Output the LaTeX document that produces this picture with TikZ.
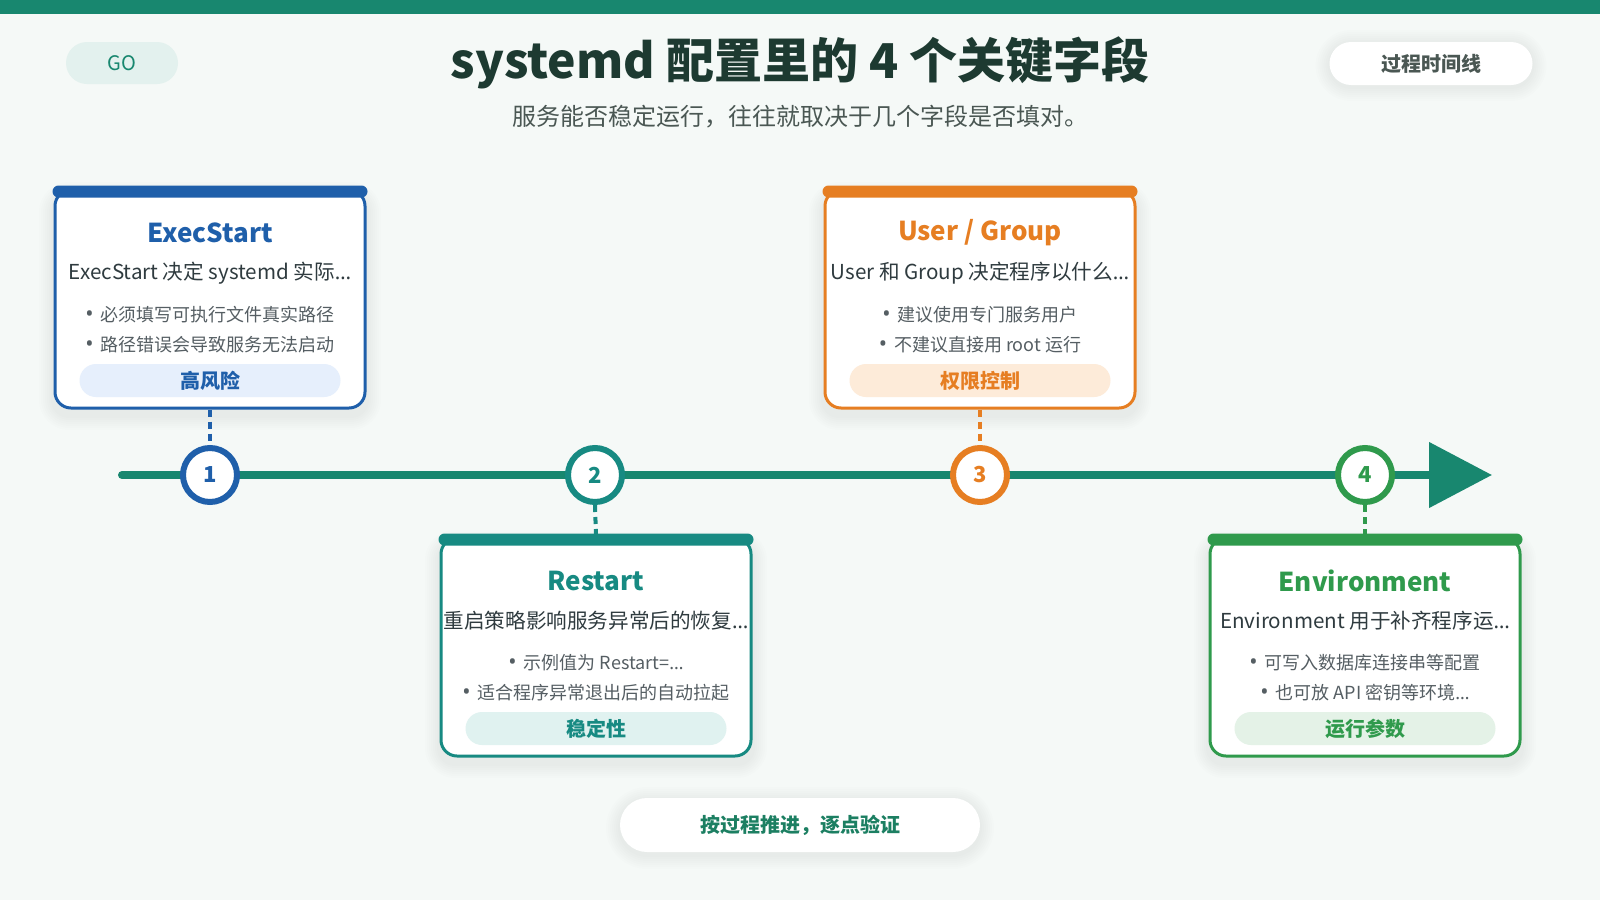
\documentclass[tikz,border=0pt]{standalone}
\usepackage{fontspec}
\setmainfont{Noto Sans CJK SC}
\newfontfamily\latinfont{Noto Sans}
\usetikzlibrary{arrows.meta}
\definecolor{bg}{HTML}{F5F9F7}
\definecolor{cTeal}{HTML}{18876F}
\definecolor{goFill}{HTML}{E3F1EE}
\definecolor{titleCol}{HTML}{1D3A31}
\definecolor{subCol}{HTML}{4A5753}
\definecolor{descCol}{HTML}{2F3B3F}
\definecolor{bulletCol}{HTML}{555E63}
\definecolor{footText}{HTML}{1C7F62}
\definecolor{cA}{HTML}{1F5FAA}
\definecolor{cATag}{HTML}{E6EFFC}
\definecolor{cB}{HTML}{178A82}
\definecolor{cBTag}{HTML}{E0F2F0}
\definecolor{cC}{HTML}{E67E22}
\definecolor{cCTag}{HTML}{FDEBD9}
\definecolor{cD}{HTML}{2F9A4C}
\definecolor{cDTag}{HTML}{E4F2E7}
\newcommand\myell{{\latinfont …}}
\newcommand\mybul{{\latinfont\fontsize{11}{11}\selectfont •}\hspace{3.5pt}}
\tikzset{
  pill/.style={inner sep=0pt, font=\fontsize{10}{12}\selectfont},
  cardbody/.style={draw=#1, fill=white, line width=1.5pt, rounded corners=8pt,
    minimum width=155pt, minimum height=109pt, inner sep=0pt},
  cardtitle/.style={inner sep=0pt, font=\bfseries\fontsize{13}{15}\selectfont},
  carddesc/.style={inner sep=0pt, text=descCol, font=\fontsize{10.3}{12}\selectfont},
  cardbullet/.style={inner sep=0pt, text=bulletCol, font=\fontsize{9}{11}\selectfont},
  cardtag/.style={inner sep=0pt, minimum width=130.5pt, minimum height=16.5pt, rounded corners=8.25pt, font=\bfseries\fontsize{10}{12}\selectfont},
  stepcircle/.style={circle, draw=#1, fill=white, line width=3pt, minimum size=27pt, inner sep=0pt, text=#1, font=\bfseries\fontsize{11}{13}\selectfont},
  dashconn/.style={draw=#1, line width=2pt, dash pattern=on 3.5pt off 2.5pt},
}
% soft shadow: #1 cx, #2 cy, #3 half width, #4 half height, #5 radius, #6 drop (all px)
\newcommand\mkshadow[7]{%
  \foreach \s in {2,4,...,14}{%
    \fill[black, opacity=#7, rounded corners={(#5+\s)*0.5pt}] ({#1-#3-\s},{#2-#4-\s+#6}) rectangle ({#1+#3+\s},{#2+#4+\s+#6});
  }%
}
\newcommand\mycard[8]{%
  \mkshadow{#2}{#3+112}{157}{110}{16}{7}{0.009}
  \node[cardbody=c#1] (card#1) at (#2,{#3+112}) {};
  \fill[c#1, rounded corners=3pt] ([xshift=-0.5pt,yshift=1.5pt]card#1.north west) rectangle ([xshift=0.5pt,yshift=-4.5pt]card#1.north east);
  \node[cardtitle, text=c#1] (title#1) at (#2,{#3+46}) {#4};
  \node[carddesc] (desc#1) at (#2,{#3+86}) {#5};
  \node[cardbullet] (b#1a) at (#2,{#3+128}) {\mybul #6};
  \node[cardbullet] (b#1b) at (#2,{#3+158}) {\mybul #7};
  \node[cardtag, fill=c#1Tag, text=c#1] (tag#1) at (#2,{#3+193.5}) {#8};
}
\begin{document}
\begin{tikzpicture}[x=0.5pt,y=-0.5pt]
\useasboundingbox (0,0) rectangle (1600,900);
\fill[bg] (0,0) rectangle (1600,900);
\fill[cTeal] (0,0) rectangle (1600,14);
% header
\node[pill, fill=goFill, minimum width=56pt, minimum height=21pt, rounded corners=10.5pt, text=cTeal] (go) at (122,63) {GO};
\node[inner sep=0pt, text=titleCol, font=\bfseries\fontsize{24}{28}\selectfont] (title) at (800,63) {systemd 配置里的 4 个关键字段};
\node[inner sep=0pt, text=subCol, font=\fontsize{12}{14}\selectfont] (sub) at (800,117) {服务能否稳定运行，往往就取决于几个字段是否填对。};
\mkshadow{1431}{63.5}{101.5}{21.5}{21.5}{2}{0.006}
\node[pill, fill=white, minimum width=101.5pt, minimum height=21.5pt, rounded corners=10.75pt, text=subCol, font=\bfseries\fontsize{10}{12}\selectfont] (tl) at (1431,63.5) {过程时间线};
% timeline
\coordinate (tstart) at (122,475);
\coordinate (tend) at (1492,475);
\draw[cTeal, line width=4pt, line cap=round, -{Triangle[length=31.5pt,width=32pt]}] (tstart) -- (tend);
\node[stepcircle=cA] (c1) at (210,475) {1};
\node[stepcircle=cB] (c2) at (595,475) {2};
\node[stepcircle=cC] (c3) at (980,475) {3};
\node[stepcircle=cD] (c4) at (1365,475) {4};
% cards
\mycard{A}{210}{187}{ExecStart}{ExecStart 决定 systemd 实际\myell}{必须填写可执行文件真实路径}{路径错误会导致服务无法启动}{高风险}
\mycard{B}{596}{535}{Restart}{重启策略影响服务异常后的恢复\myell}{示例值为 Restart=\myell}{适合程序异常退出后的自动拉起}{稳定性}
\mycard{C}{980}{187}{User / Group}{User 和 Group 决定程序以什么\myell}{建议使用专门服务用户}{不建议直接用 root 运行}{权限控制}
\mycard{D}{1365}{535}{Environment}{Environment 用于补齐程序运\myell}{可写入数据库连接串等配置}{也可放 API 密钥等环境\myell}{运行参数}
% connectors
\draw[dashconn=cA] (cardA.south) -- (c1.north);
\draw[dashconn=cB] (c2.south) -- (cardB.north);
\draw[dashconn=cC] (cardC.south) -- (c3.north);
\draw[dashconn=cD] (c4.south) -- (cardD.north);
% footer
\mkshadow{800}{825}{180}{27}{27}{3}{0.006}
\node[pill, fill=white, minimum width=180pt, minimum height=27pt, rounded corners=13.5pt, text=footText, font=\bfseries\fontsize{10}{12}\selectfont] (foot) at (800,825) {按过程推进，逐点验证};
\end{tikzpicture}
\end{document}
